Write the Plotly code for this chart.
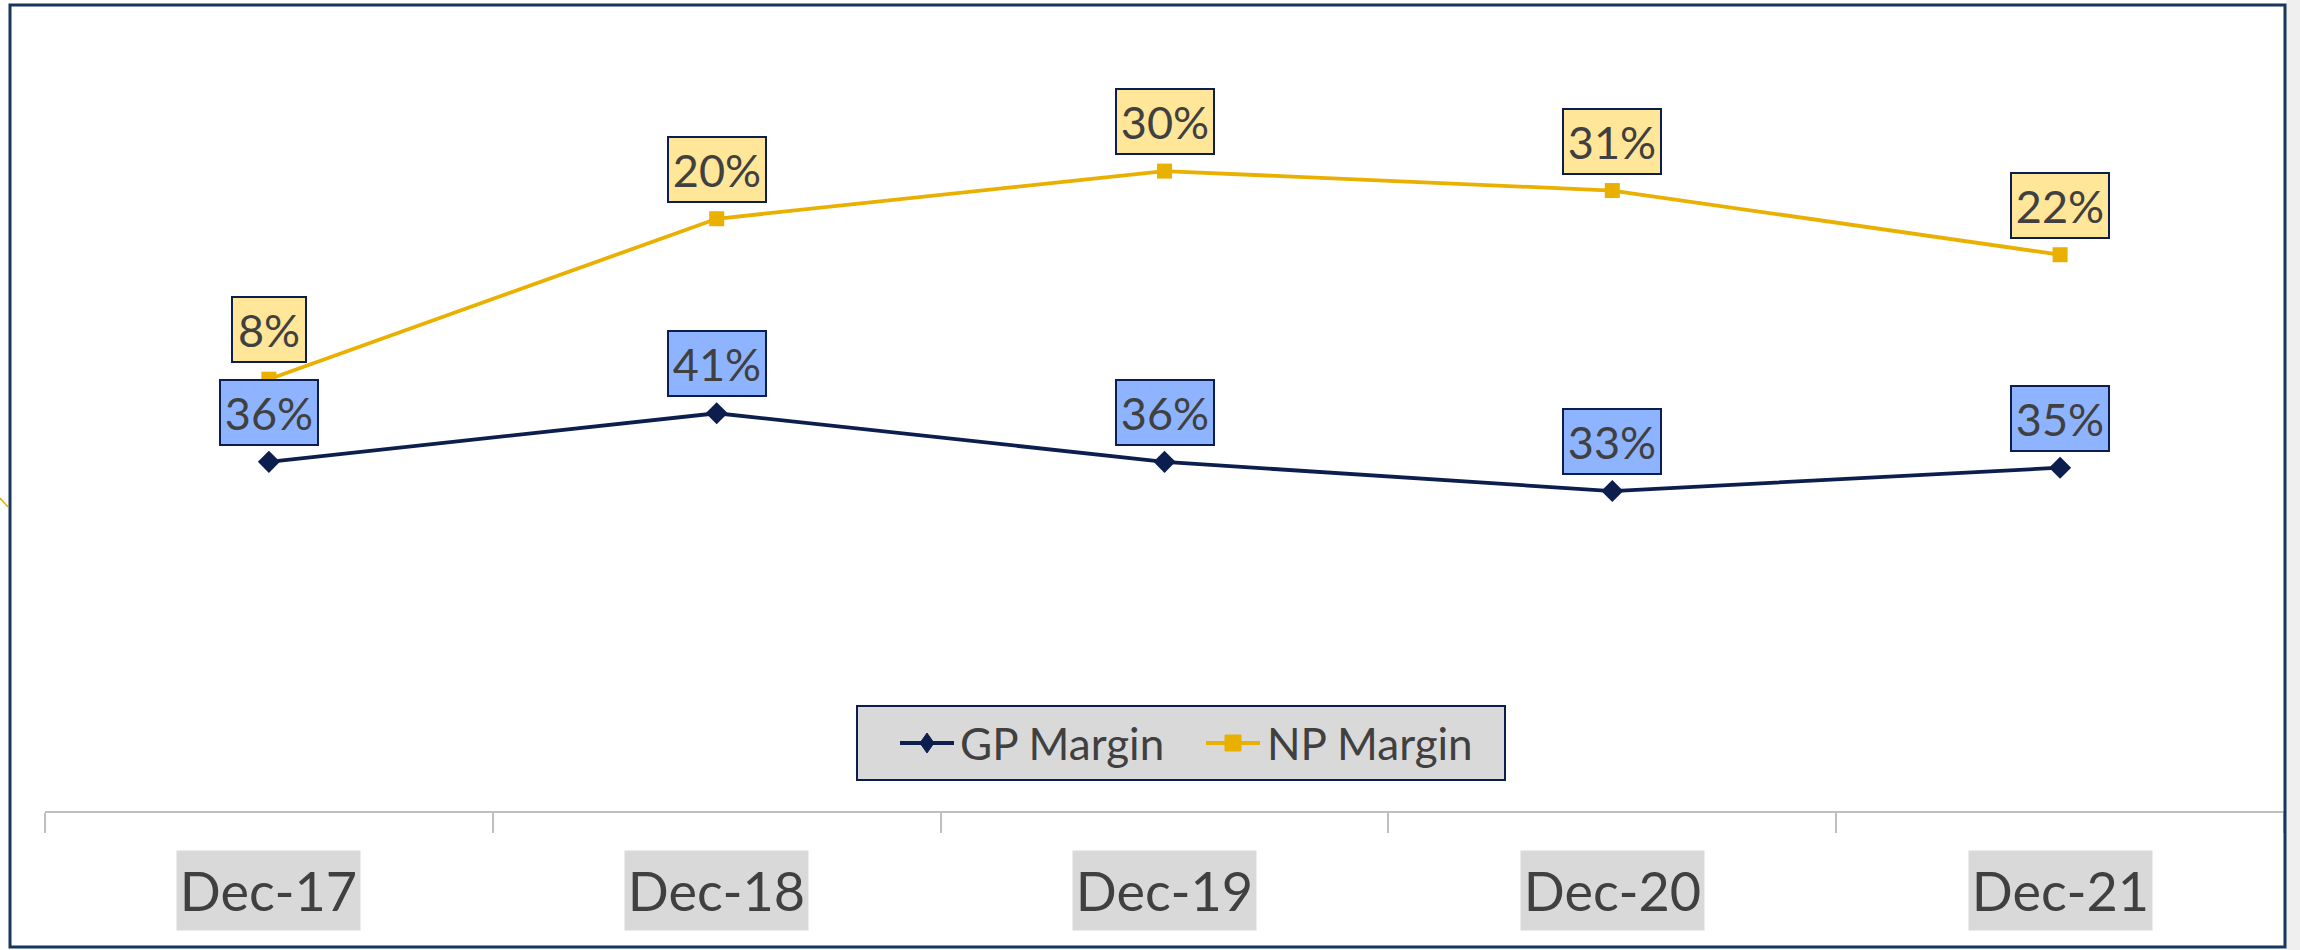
import plotly.graph_objects as go

# ---- data ----
categories = ["Dec-17", "Dec-18", "Dec-19", "Dec-20", "Dec-21"]
gp_margin = [0.359, 0.409, 0.359, 0.329, 0.353]
gp_labels = ["36%", "41%", "36%", "33%", "35%"]
# NP series is drawn on a secondary axis; values read from the plotted positions
np_margin_axis2 = [0.444, 0.609, 0.658, 0.638, 0.572]
np_labels = ["8%", "20%", "30%", "31%", "22%"]
series_names = ["GP Margin", "NP Margin"]

# ---- layout constants ----
W, H = 2300, 950
L, R, T, B = 45, 16, 33, 139
PW, PH = W - L - R, H - T - B

NAVY = "#0C1E4E"
GOLD = "#E9B000"
FRAME = "#17365D"
TXT = "#404040"
FONT = "Lato"


def px(x):
    return (x - L) / PW


def py(y):
    return 1 - (y - T) / PH


fig = go.Figure()
fig.add_trace(go.Scatter(
    x=categories, y=gp_margin, name=series_names[0], mode="lines+markers",
    line=dict(color=NAVY, width=3.8),
    marker=dict(symbol="diamond", size=17, color=NAVY),
))
fig.add_trace(go.Scatter(
    x=categories, y=np_margin_axis2, name=series_names[1], mode="lines+markers",
    yaxis="y2",
    line=dict(color=GOLD, width=3.8),
    marker=dict(symbol="square", size=15, color=GOLD),
))

annotations = []
for c, v, t in zip(categories, gp_margin, gp_labels):
    annotations.append(dict(
        x=c, y=v, xref="x", yref="y", text=t, showarrow=False,
        yanchor="bottom", yshift=16, width=94, height=61, borderpad=1,
        bgcolor="#8FB4FF", bordercolor=NAVY, borderwidth=2,
        font=dict(family=FONT, size=45, color=TXT),
    ))
for c, v, t in zip(categories, np_margin_axis2, np_labels):
    annotations.append(dict(
        x=c, y=v, xref="x", yref="y2", text=t, showarrow=False,
        yanchor="bottom", yshift=16, width=(70 if len(t) == 2 else 94), height=61, borderpad=1,
        bgcolor="#FFE699", bordercolor=NAVY, borderwidth=2,
        font=dict(family=FONT, size=45, color=TXT),
    ))
for c in categories:
    annotations.append(dict(
        x=c, y=py(890.5), xref="x", yref="paper", text=c, showarrow=False,
        yanchor="middle", width=183, height=79, borderpad=0,
        bgcolor="#D9D9D9", font=dict(family=FONT, size=54, color=TXT),
    ))

# ---- custom legend (box, symbols, text) ----
LEG_Y = 743
legend_items = [
    dict(name=series_names[0], color=NAVY, symbol="diamond", x0=900, x1=954, tx=958),
    dict(name=series_names[1], color=GOLD, symbol="square", x0=1206, x1=1260, tx=1265),
]

shapes = [
    # grey strip outside the chart frame on the right
    dict(type="rect", xref="paper", yref="paper", x0=px(2286), x1=px(W), y0=py(H), y1=py(0),
         fillcolor="#EFEFEF", line=dict(width=0), layer="below"),
    # chart frame
    dict(type="rect", xref="paper", yref="paper", x0=px(10), x1=px(2285), y0=py(947), y1=py(5),
         line=dict(color=FRAME, width=3), fillcolor="rgba(0,0,0,0)"),
    # small fragment at left edge
    dict(type="line", xref="paper", yref="paper", x0=px(0), x1=px(8), y0=py(498), y1=py(507),
         line=dict(color=GOLD, width=1.5)),
    # legend box
    dict(type="rect", xref="paper", yref="paper", x0=px(857), x1=px(1505), y0=py(780), y1=py(706),
         fillcolor="#D9D9D9", line=dict(color=NAVY, width=2)),
]
for it in legend_items:
    shapes.append(dict(type="line", xref="paper", yref="paper",
                       x0=px(it["x0"]), x1=px(it["x1"]), y0=py(LEG_Y), y1=py(LEG_Y),
                       line=dict(color=it["color"], width=3.8)))
    cx = (it["x0"] + it["x1"]) / 2
    if it["symbol"] == "diamond":
        pts = [(cx, LEG_Y - 10), (cx + 7, LEG_Y), (cx, LEG_Y + 10), (cx - 7, LEG_Y)]
    else:
        pts = [(cx - 8, LEG_Y - 8), (cx + 8, LEG_Y - 8), (cx + 8, LEG_Y + 8), (cx - 8, LEG_Y + 8)]
    path = "M " + " L ".join(f"{px(a):.6f},{py(b):.6f}" for a, b in pts) + " Z"
    shapes.append(dict(type="path", xref="paper", yref="paper", path=path,
                       fillcolor=it["color"], line=dict(color=it["color"], width=1)))
    annotations.append(dict(
        x=px(it["tx"]), y=py(LEG_Y), xref="paper", yref="paper", text=it["name"],
        showarrow=False, xanchor="left", yanchor="middle",
        font=dict(family=FONT, size=44, color=TXT),
    ))

fig.update_layout(
    width=W, height=H,
    margin=dict(l=L, r=R, t=T, b=B),
    paper_bgcolor="white", plot_bgcolor="white",
    showlegend=False,
    xaxis=dict(
        type="category", range=[-0.5, 4.5], showgrid=False, zeroline=False,
        showline=True, linecolor="#BFBFBF", linewidth=1.5,
        ticks="outside", ticklen=20, tickcolor="#BFBFBF", tickwidth=1.5,
        tickson="boundaries", showticklabels=False,
    ),
    yaxis=dict(range=[0, 0.8], visible=False, showgrid=False, zeroline=False),
    yaxis2=dict(range=[0, 0.8], visible=False, overlaying="y", showgrid=False, zeroline=False),
    annotations=annotations,
    shapes=shapes,
)

fig.write_html("out.html", config={"displayModeBar": False},
               post_script="document.body.style.margin='0px';")
